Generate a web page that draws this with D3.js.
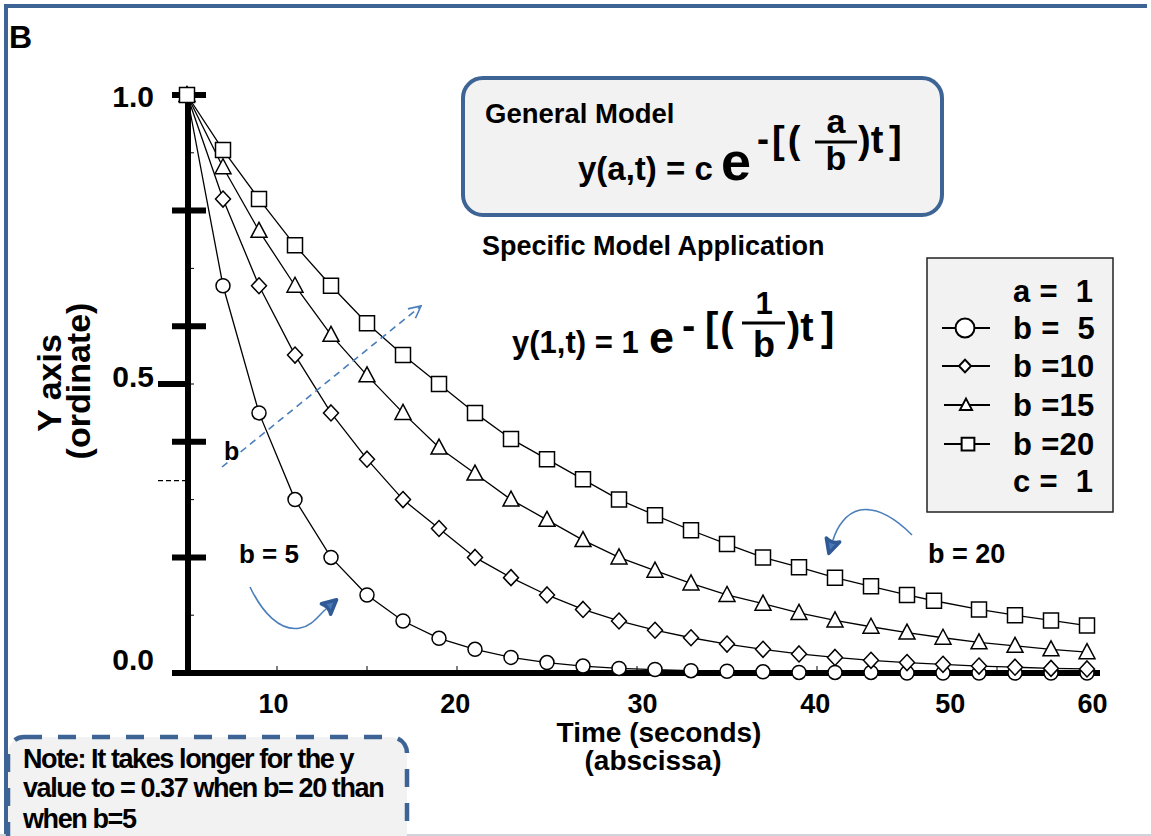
<!DOCTYPE html>
<html><head><meta charset="utf-8">
<script src="https://cdn.jsdelivr.net/npm/d3@7"></script>
<style>
body{margin:0;background:#fff}
svg{display:block}
text{font-family:"Liberation Sans",Arial,Helvetica,sans-serif;font-weight:bold;fill:#000;white-space:pre}
</style>
</head><body>
<svg id="c" width="1151" height="836"></svg>
<script>
// ---------------- data ----------------
const time   = [0,2,4,6,8,10,12,14,16,18,20,22,24,26,28,30,32,34,36,38,40,42,44,46,48,50];
const timeB20 = [0,2,4,6,8,10,12,14,16,18,20,22,24,26,28,30,32,34,36,38,40,41.5,44,46,48,50];
const b5  = [1.00,0.67,0.45,0.30,0.20,0.135,0.09,0.06,0.041,0.027,0.018,0.012,0.008,0.006,0.004,0.003,0.002,0.001,0.001,0.001,0.0,0.0,0.0,0.0,0.0,0.0];
const b10 = [1.00,0.82,0.67,0.55,0.45,0.37,0.30,0.25,0.20,0.165,0.135,0.11,0.09,0.074,0.061,0.05,0.041,0.033,0.027,0.022,0.018,0.015,0.012,0.01,0.008,0.007];
const b15 = [1.00,0.875,0.765,0.67,0.585,0.515,0.45,0.39,0.345,0.30,0.265,0.23,0.20,0.177,0.155,0.135,0.12,0.104,0.091,0.08,0.07,0.061,0.053,0.047,0.041,0.036];
const b20 = [1.00,0.905,0.82,0.74,0.67,0.605,0.55,0.50,0.45,0.405,0.37,0.335,0.30,0.273,0.247,0.223,0.20,0.183,0.165,0.15,0.135,0.125,0.11,0.10,0.091,0.082];
const legendRows = ["a =  1","b =  5","b =10","b =15","b =20","c =  1"];
const seriesSymbols = ["circle","diamond","triangle","square"];
const yMajorTicks = [0,0.2,0.4,0.6,0.8,1.0];
const yMinorTicks = [0.1,0.3,0.5,0.7,0.9];
const yTickLabels = ["0.0","0.5","1.0"];
const yTickLabelValues = [0.0,0.5,1.0];
const xTickLabels = ["10","20","30","40","50","60"];
const xTickLabelAt = [4.8,14.9,25.3,34.9,42.4,50.3];
const xMinorTicks = [5,10,15,20,25,30,35,40,45];
const noteLines = ["Note: It takes longer for the y","value to = 0.37 when b= 20 than","when b=5"];

// ---------------- drawing ----------------
const svg = d3.select("#c");
const BLUE = "#3e6496", ARROW = "#4a7ebb", BOX = "#f2f2f2";
const x = d3.scaleLinear().domain([0,50]).range([187,1087]);
const y = d3.scaleLinear().domain([0,1]).range([673,95]);

const defs = svg.append("defs");
defs.append("marker").attr("id","openHead").attr("markerUnits","userSpaceOnUse")
  .attr("viewBox","-14 -8 16 16").attr("refX",0).attr("refY",0)
  .attr("markerWidth",16).attr("markerHeight",16).attr("orient","auto")
  .append("path").attr("d","M-12,-6 L0,0 L-12,6").attr("fill","none")
  .attr("stroke",ARROW).attr("stroke-width",1.6);
defs.append("marker").attr("id","blobHead").attr("markerUnits","userSpaceOnUse")
  .attr("viewBox","-4 -12 24 24").attr("refX",0).attr("refY",0)
  .attr("markerWidth",24).attr("markerHeight",24).attr("orient","auto")
  .append("path").attr("d","M0,-7 L14,0 L0,7 Q4,0 0,-7 Z")
  .attr("fill","#4a78b8").attr("stroke","#2f5a96").attr("stroke-width",3.5).attr("stroke-linejoin","round");

// frame
svg.append("line").attr("x1",4).attr("x2",1147).attr("y1",6).attr("y2",6).attr("stroke",BLUE).attr("stroke-width",4);
svg.append("line").attr("x1",6).attr("x2",6).attr("y1",4).attr("y2",836).attr("stroke",BLUE).attr("stroke-width",4);
svg.append("line").attr("x1",0).attr("x2",1151).attr("y1",835).attr("y2",835).attr("stroke","#d0d4da").attr("stroke-width",2);

// panel letter
svg.append("text").attr("x",9).attr("y",48).style("font-size","32px").text("B");

// General model box
svg.append("rect").attr("x",463).attr("y",78).attr("width",479).attr("height",137).attr("rx",20)
  .attr("fill",BOX).attr("stroke",BLUE).attr("stroke-width",4);
svg.append("text").attr("x",485).attr("y",123).style("font-size","27.5px").text("General Model");
svg.append("text").attr("x",578).attr("y",180).style("font-size","33px").text("y(a,t) = c");
svg.append("text").attr("x",721).attr("y",180).style("font-size","54px").text("e");
svg.append("text").attr("x",757).attr("y",151).style("font-size","36px").text("-");
svg.append("text").attr("x",772).attr("y",153).style("font-size","38px").attr("letter-spacing","3").text("[(");
svg.append("text").attr("x",836).attr("y",133).attr("text-anchor","middle").style("font-size","34px").text("a");
svg.append("line").attr("x1",815).attr("x2",857).attr("y1",142).attr("y2",142).attr("stroke","#000").attr("stroke-width",3);
svg.append("text").attr("x",836).attr("y",170).attr("text-anchor","middle").style("font-size","34px").text("b");
svg.append("text").attr("x",858).attr("y",153).style("font-size","38px").text(")t");
svg.append("text").attr("x",889).attr("y",153).style("font-size","38px").text("]");

// Specific model
svg.append("text").attr("x",482).attr("y",255).style("font-size","27px").text("Specific Model Application");
svg.append("text").attr("x",512).attr("y",353).style("font-size","31px").text("y(1,t) = 1");
svg.append("text").attr("x",649).attr("y",353).style("font-size","45px").text("e");
svg.append("text").attr("x",682).attr("y",339).style("font-size","40px").text("-");
svg.append("text").attr("x",705).attr("y",341).style("font-size","40px").attr("letter-spacing","2").text("[(");
svg.append("text").attr("x",764).attr("y",314).attr("text-anchor","middle").style("font-size","31px").text("1");
svg.append("line").attr("x1",742).attr("x2",785).attr("y1",323).attr("y2",323).attr("stroke","#000").attr("stroke-width",3);
svg.append("text").attr("x",764).attr("y",357).attr("text-anchor","middle").style("font-size","36px").text("b");
svg.append("text").attr("x",787).attr("y",341).style("font-size","40px").text(")t");
svg.append("text").attr("x",821).attr("y",341).style("font-size","40px").text("]");

// axes
const ax = svg.append("g");
ax.append("line").attr("x1",188).attr("x2",188).attr("y1",y(1)).attr("y2",y(0)+3).attr("stroke","#000").attr("stroke-width",6);
ax.append("line").attr("x1",172).attr("x2",1100).attr("y1",y(0)).attr("y2",y(0)).attr("stroke","#000").attr("stroke-width",6);
ax.selectAll(".ymaj").data(yMajorTicks).join("line")
  .attr("x1",172).attr("x2",206).attr("y1",d=>y(d)).attr("y2",d=>y(d)).attr("stroke","#000").attr("stroke-width",6);
ax.append("line").attr("x1",158).attr("x2",190).attr("y1",y(0.5)).attr("y2",y(0.5)).attr("stroke","#000").attr("stroke-width",6);
ax.selectAll(".ymin").data(yMinorTicks).join("line")
  .attr("x1",190).attr("x2",194).attr("y1",d=>y(d)).attr("y2",d=>y(d)).attr("stroke","#000").attr("stroke-width",1);
ax.selectAll(".xmin").data(xMinorTicks).join("line")
  .attr("x1",d=>x(d)).attr("x2",d=>x(d)).attr("y1",y(0)-7).attr("y2",y(0)).attr("stroke","#000").attr("stroke-width",1);
// dashed reference at ~0.333
ax.append("line").attr("x1",158).attr("x2",185).attr("y1",y(0.333)).attr("y2",y(0.333))
  .attr("stroke","#000").attr("stroke-width",1.2).attr("stroke-dasharray","5,3");

const yLabOffset = [-3,3,12];
ax.selectAll(".ylab").data(yTickLabelValues).join("text")
  .attr("x",154).attr("y",(d,i)=>y(d)+yLabOffset[i]).attr("text-anchor","end").style("font-size","30px")
  .text((d,i)=>yTickLabels[i]);
ax.selectAll(".xlab").data(xTickLabelAt).join("text")
  .attr("x",d=>x(d)).attr("y",713).attr("text-anchor","middle").style("font-size","27px")
  .text((d,i)=>xTickLabels[i]);

// axis titles
svg.append("text").attr("transform","translate(61,383) rotate(-90)").attr("text-anchor","middle").style("font-size","34px").text("Y axis");
svg.append("text").attr("transform","translate(90,381) rotate(-90)").attr("text-anchor","middle").style("font-size","34px").text("(ordinate)");
svg.append("text").attr("x",659).attr("y",742).attr("text-anchor","middle").style("font-size","28px").text("Time (seconds)");
svg.append("text").attr("x",653).attr("y",770).attr("text-anchor","middle").style("font-size","28px").text("(abscissa)");

// symbol drawing
function drawSymbol(g, type, cx, cy, s){
  if(type==="circle") return g.append("circle").attr("cx",cx).attr("cy",cy).attr("r",7*s);
  let d;
  if(type==="square") d=`M${cx-7.5*s},${cy-7.5*s}h${15*s}v${15*s}h${-15*s}Z`;
  if(type==="diamond") d=`M${cx},${cy-8*s}L${cx+7.5*s},${cy}L${cx},${cy+8*s}L${cx-7.5*s},${cy}Z`;
  if(type==="triangle") d=`M${cx},${cy-8.5*s}L${cx+8*s},${cy+6.5*s}L${cx-8*s},${cy+6.5*s}Z`;
  return g.append("path").attr("d",d);
}

const series = [
  {t:time, v:b5,  sym:"circle"},
  {t:time, v:b10, sym:"diamond"},
  {t:time, v:b15, sym:"triangle"},
  {t:timeB20, v:b20, sym:"square"}
];
const line = d3.line().x(d=>x(d[0])).y(d=>y(d[1]));
const plot = svg.append("g");
series.forEach(s=>{
  const pts = s.t.map((t,i)=>[t,s.v[i]]);
  plot.append("path").attr("d",line(pts)).attr("fill","none").attr("stroke","#000").attr("stroke-width",1.3);
});
series.forEach(s=>{
  const g = plot.append("g").attr("fill","#fff").attr("stroke","#000").attr("stroke-width",1.5);
  s.t.forEach((t,i)=>drawSymbol(g,s.sym,x(t),y(s.v[i]),1));
});

// legend
const lg = svg.append("g");
lg.append("rect").attr("x",927).attr("y",258).attr("width",186).attr("height",254).attr("fill",BOX).attr("stroke","#222").attr("stroke-width",1.5);
const rowY = [291,328,366,405,444,481];
legendRows.forEach((r,i)=>{
  lg.append("text").attr("x",1013).attr("y",rowY[i]).attr("dy","0.36em").style("font-size","31px").attr("letter-spacing","0.3").text(r);
});
const legSym = [ {s:1.35,cx:965}, {s:0.8,cx:965}, {s:0.75,cx:966}, {s:0.85,cx:968} ];
seriesSymbols.forEach((sym,i)=>{
  const cy=rowY[i+1];
  lg.append("line").attr("x1",i<2?942:944).attr("x2",990).attr("y1",cy).attr("y2",cy).attr("stroke","#000").attr("stroke-width",2);
  const g = lg.append("g").attr("fill","#fff").attr("stroke","#000").attr("stroke-width",2);
  drawSymbol(g,sym,legSym[i].cx,cy,legSym[i].s);
});

// annotations
svg.append("line").attr("x1",222).attr("y1",467).attr("x2",421).attr("y2",306)
  .attr("stroke",ARROW).attr("stroke-width",1.6).attr("stroke-dasharray","7,5").attr("marker-end","url(#openHead)");
svg.append("text").attr("x",224).attr("y",460).style("font-size","25px").text("b");
svg.append("text").attr("x",239).attr("y",563).style("font-size","26px").text("b = 5");
svg.append("text").attr("x",928).attr("y",563).style("font-size","27px").text("b = 20");
svg.append("path").attr("d","M250,587 C262,612 280,632 300,628 C312,626 318,616 326,609")
  .attr("fill","none").attr("stroke",ARROW).attr("stroke-width",1.6).attr("marker-end","url(#blobHead)");
svg.append("path").attr("d","M912,535 C895,518 878,507 860,510 C846,513 837,527 833,540")
  .attr("fill","none").attr("stroke",ARROW).attr("stroke-width",1.6).attr("marker-end","url(#blobHead)");

// note box
svg.append("rect").attr("x",8).attr("y",737).attr("width",399).attr("height",130).attr("rx",16)
  .attr("fill",BOX).attr("stroke",BLUE).attr("stroke-width",4.5).attr("stroke-dasharray","18,16");
const noteY=[768,797,828];
noteLines.forEach((t,i)=>svg.append("text").attr("x",23).attr("y",noteY[i]).style("font-size","27px").attr("letter-spacing","-1.4").text(t));
</script>
</body></html>
